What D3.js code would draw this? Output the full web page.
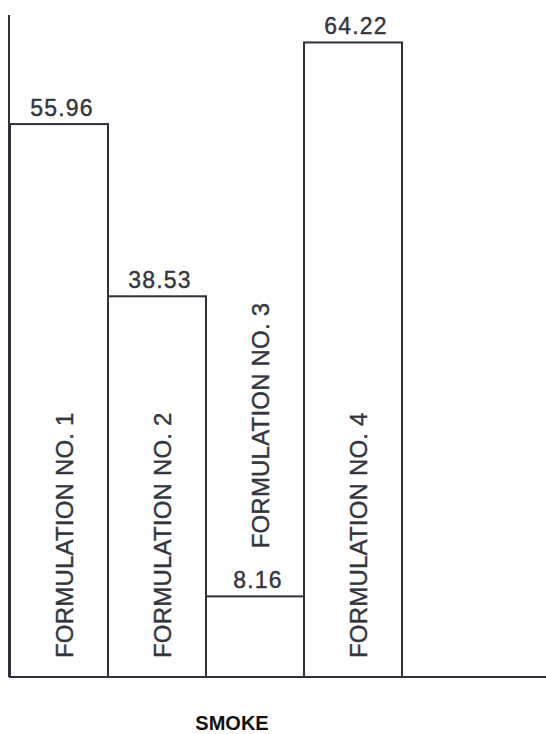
<!DOCTYPE html>
<html>
<head>
<meta charset="utf-8">
<script src="https://cdn.jsdelivr.net/npm/d3@7"></script>
<style>
  body { margin: 0; background: #fff; }
  text { font-family: "Liberation Sans", Arial, sans-serif; }
</style>
</head>
<body>
<svg id="svg_chart" width="546" height="734"></svg>
<script>

// Data
const formulations = ["FORMULATION NO. 1", "FORMULATION NO. 2", "FORMULATION NO. 3", "FORMULATION NO. 4"];
const smoke_values = [55.96, 38.53, 8.16, 64.22];
const value_labels = ["55.96", "38.53", "8.16", "64.22"];
const x_title = "SMOKE";

const svg = d3.select("#svg_chart");
const width = +svg.attr("width");

// Colors
const ink = "#2f3039",
    text_ink = "#34353d";

const baseline = 677,
    axis_x = 9;

// Scales
const x_scale = d3.scaleBand()
    .domain(formulations)
    .range([10, 402])
    .padding(0);

const y_scale = d3.scaleLinear()
    .domain([0, 67])
    .range([baseline, 15]);

// Axes lines (no ticks in original)
svg.append("line")
    .attr("x1", axis_x).attr("x2", axis_x)
    .attr("y1", y_scale(0)).attr("y2", y_scale(67))
    .attr("stroke", ink).attr("stroke-width", 2);

svg.append("line")
    .attr("x1", axis_x).attr("x2", width)
    .attr("y1", y_scale(0)).attr("y2", y_scale(0))
    .attr("stroke", ink).attr("stroke-width", 2);

// Bars
const bars = svg.append("g").attr("class", "bars");

bars.selectAll("rect")
    .data(formulations)
    .enter().append("rect")
    .attr("x", d => x_scale(d))
    .attr("y", (d, i) => y_scale(smoke_values[i]))
    .attr("width", x_scale.bandwidth())
    .attr("height", (d, i) => y_scale(0) - y_scale(smoke_values[i]))
    .attr("fill", "none")
    .attr("stroke", ink)
    .attr("stroke-width", 2);

// Value labels above bars
bars.selectAll("text.value")
    .data(formulations)
    .enter().append("text")
    .attr("class", "value")
    .attr("x", d => x_scale(d) + x_scale.bandwidth() / 2 + 3)
    .attr("y", (d, i) => y_scale(smoke_values[i]) - 8)
    .attr("text-anchor", "middle")
    .attr("font-size", 23)
    .attr("letter-spacing", 1.2)
    .attr("fill", text_ink)
    .attr("stroke", text_ink)
    .attr("stroke-width", 0.4)
    .text((d, i) => value_labels[i]);

// Rotated formulation labels; short bars get the label above them
const label_len = 260;

bars.selectAll("text.name")
    .data(formulations)
    .enter().append("text")
    .attr("class", "name")
    .attr("transform", (d, i) => {
        const tx = x_scale(d) + x_scale.bandwidth() / 2 + 14;
        const top = y_scale(smoke_values[i]);
        const ty = (y_scale(0) - top > label_len) ? y_scale(0) - 19 : top - 48;
        return `translate(${tx},${ty}) rotate(-90)`;
    })
    .attr("text-anchor", "start")
    .attr("font-size", 24)
    .attr("letter-spacing", 0.2)
    .attr("fill", text_ink)
    .attr("stroke", text_ink)
    .attr("stroke-width", 0.4)
    .text(d => d);

// Axis title
svg.append("text")
    .attr("x", 232)
    .attr("y", 730)
    .attr("text-anchor", "middle")
    .attr("font-size", 20)
    .attr("font-weight", "bold")
    .attr("fill", "#111")
    .text(x_title);

</script>
</body>
</html>
